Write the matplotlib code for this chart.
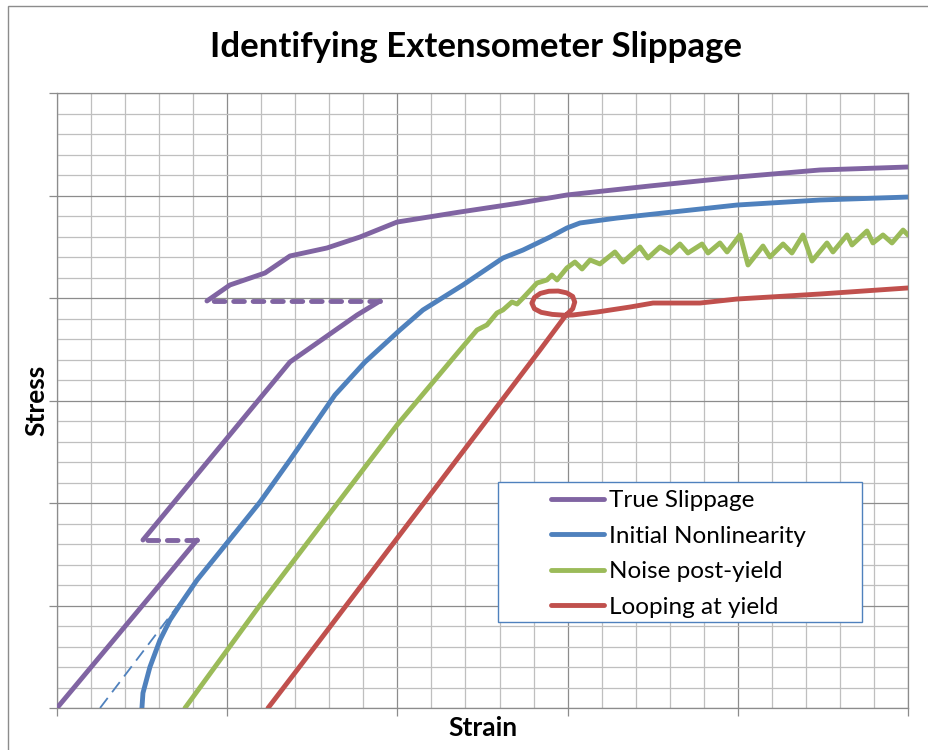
import matplotlib
matplotlib.use("Agg")
import matplotlib.pyplot as plt
from matplotlib.patches import Rectangle
from matplotlib.lines import Line2D
from matplotlib.ticker import MultipleLocator, NullFormatter

# ---------------- data (strain, stress in arbitrary units) ----------------
slip_a_x = [0.0, 8.23]
slip_a_y = [0.0, 16.39]
slip_jump1_x = [8.23, 5.05]
slip_jump1_y = [16.39, 16.39]
slip_b_x = [5.05, 13.69, 17.63, 18.98]
slip_b_y = [16.39, 33.76, 38.34, 39.71]
slip_jump2_x = [18.98, 8.81]
slip_jump2_y = [39.71, 39.71]
slip_c_x = [8.81, 10.16, 12.22, 13.69, 15.86, 17.80, 19.98, 23.68, 27.20,
            29.96, 34.84, 39.95, 44.83, 50.0]
slip_c_y = [39.71, 41.27, 42.44, 44.10, 44.88, 45.95, 47.41, 48.39, 49.27,
            50.05, 50.93, 51.80, 52.49, 52.78]

nonlin_x = [4.99, 5.05, 5.46, 6.05, 6.64, 7.34, 8.23, 9.99, 11.93, 13.69,
            16.33, 18.10, 20.15, 21.50, 23.85, 26.20, 27.38, 28.97, 29.96,
            30.73, 32.90, 39.95, 44.83, 50.0]
nonlin_y = [0.0, 1.46, 4.00, 6.63, 8.59, 10.34, 12.49, 16.10, 20.10, 24.20,
            30.54, 33.76, 36.88, 38.83, 41.27, 43.90, 44.68, 45.95, 46.83,
            47.32, 47.80, 49.07, 49.56, 49.85]
nonlin_fit_x = [2.53, 10.34]
nonlin_fit_y = [0.0, 17.07]

noise_x = [7.52, 11.93, 19.98, 23.68, 24.68, 25.26, 25.85, 26.20, 26.73,
           27.03, 27.38, 28.20, 28.79, 29.08, 29.38, 29.96, 30.43, 30.85,
           31.32, 31.90, 32.78, 33.26, 34.25, 34.72, 35.43, 36.02, 36.60,
           37.07, 37.90, 38.25, 38.95, 39.37, 40.13, 40.60, 41.48, 41.89,
           42.66, 43.18, 43.83, 44.36, 45.24, 45.59, 46.42, 46.71, 47.59,
           47.94, 48.53, 49.06, 49.71, 50.0]
noise_y = [0.0, 10.05, 27.61, 34.93, 36.88, 37.37, 38.54, 38.83, 39.61,
           39.41, 40.00, 41.46, 41.76, 42.24, 41.76, 42.93, 43.51, 42.83,
           43.71, 43.32, 44.49, 43.51, 44.98, 43.90, 44.98, 44.39, 45.27,
           44.39, 45.27, 44.39, 45.37, 44.49, 46.15, 43.22, 45.07, 44.00,
           45.27, 44.39, 46.15, 43.61, 45.37, 44.49, 46.15, 45.17, 46.54,
           45.37, 46.15, 45.37, 46.63, 46.15]

loop_x = [12.40, 15.45, 28.38, 29.91, 30.30, 30.42, 30.30, 29.95, 29.45,
          28.90, 28.40, 28.05, 27.90, 28.05, 28.45, 29.10, 29.80, 30.30,
          31.73, 33.67, 35.02, 37.78, 39.95, 44.83, 50.0]
loop_y = [0.0, 6.63, 34.93, 38.34, 38.95, 39.60, 40.15, 40.50, 40.68,
          40.66, 40.45, 40.05, 39.50, 38.95, 38.60, 38.40, 38.32, 38.34,
          38.63, 39.12, 39.51, 39.51, 39.90, 40.39, 40.98]

series_labels = ["True Slippage", "Initial Nonlinearity",
                 "Noise post-yield", "Looping at yield"]
series_colors = ["#8064A2", "#4F81BD", "#9BBB59", "#C0504D"]

# ---------------- figure ----------------
W, H = 929, 750
fig = plt.figure(figsize=(W / 100, H / 100), dpi=100)
fig.patch.set_facecolor("white")
FONT = ["Lato", "DejaVu Sans"]

# outer chart border (only top & left visible in crop)
fig.add_artist(Rectangle((8 / W, -0.05), 1.2, 1 - 6 / H + 0.05,
                         transform=fig.transFigure, fill=False,
                         edgecolor="#8c8c8c", lw=1.0))

ax = fig.add_axes([57 / W, (H - 708) / H, (908 - 57) / W, (708 - 93) / H])
ax.set_xlim(0, 50)
ax.set_ylim(0, 60)

ax.xaxis.set_major_locator(MultipleLocator(10))
ax.xaxis.set_minor_locator(MultipleLocator(2))
ax.yaxis.set_major_locator(MultipleLocator(10))
ax.yaxis.set_minor_locator(MultipleLocator(2))
ax.xaxis.set_major_formatter(NullFormatter())
ax.yaxis.set_major_formatter(NullFormatter())
ax.grid(which="minor", color="#bfbfbf", lw=0.9, zorder=0)
ax.grid(which="major", color="#8c8c8c", lw=0.9, zorder=0.5)
ax.set_axisbelow(True)
ax.tick_params(which="major", direction="out", length=6, width=0.9,
               color="#8c8c8c")
ax.tick_params(which="minor", length=0)
for s in ax.spines.values():
    s.set_color("#8c8c8c")
    s.set_linewidth(0.9)

LW = 3.5
kw = dict(lw=LW, solid_capstyle="round", solid_joinstyle="round", zorder=3)
dkw = dict(lw=LW, linestyle=(0, (2.2, 1.8)), dash_capstyle="round", zorder=3)

c_slip, c_nl, c_noise, c_loop = series_colors
ax.plot(slip_a_x, slip_a_y, color=c_slip, **kw)
ax.plot(slip_jump1_x, slip_jump1_y, color=c_slip, **dkw)
ax.plot(slip_b_x, slip_b_y, color=c_slip, **kw)
ax.plot(slip_jump2_x, slip_jump2_y, color=c_slip, **dkw)
ax.plot(slip_c_x, slip_c_y, color=c_slip, **kw)

ax.plot(nonlin_fit_x, nonlin_fit_y, color=c_nl, lw=1.3,
        linestyle=(0, (7, 4)), zorder=3)
ax.plot(nonlin_x, nonlin_y, color=c_nl, **kw)
ax.plot(noise_x, noise_y, color=c_noise, **kw)
ax.plot(loop_x, loop_y, color=c_loop, **kw)

# title & axis labels
fig.text(476 / W, 1 - 47 / H, "Identifying Extensometer Slippage",
         ha="center", va="center", fontsize=25, fontweight="bold",
         family=FONT)
fig.text(483 / W, 1 - 728 / H, "Strain", ha="center", va="center",
         fontsize=19, fontweight="bold", family=FONT)
fig.text(36 / W, 1 - 400 / H, "Stress", ha="center", va="center",
         rotation=90, fontsize=19, fontweight="bold", family=FONT)

# legend
fig.add_artist(Rectangle((498 / W, 1 - 622 / H), (862 - 498) / W,
                         (622 - 482) / H, transform=fig.transFigure,
                         facecolor="white", edgecolor="#4F81BD", lw=1.0,
                         zorder=5))
handles = [Line2D([], [], color=c, lw=LW, solid_capstyle="round")
           for c in series_colors]
leg = fig.legend(handles, series_labels, loc="upper left",
                 bbox_to_anchor=(551 / W, 1 - 490 / H),
                 frameon=False, borderpad=0, borderaxespad=0,
                 handlelength=2.2, handletextpad=0.2, labelspacing=0.6,
                 prop=dict(family=FONT, size=17.5))
leg.set_zorder(6)

fig.savefig("out.png", dpi=100, facecolor="white")
